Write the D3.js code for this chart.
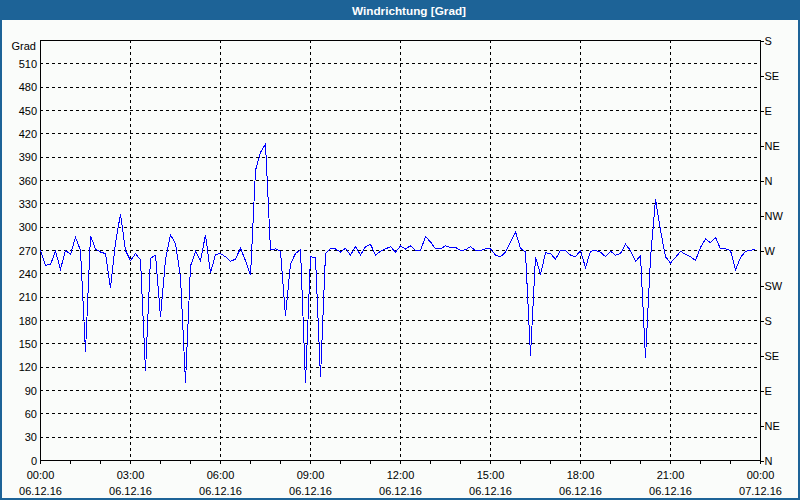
<!DOCTYPE html>
<html><head><meta charset="utf-8">
<script src="https://cdn.jsdelivr.net/npm/d3@7"></script>
<style>html,body{margin:0;padding:0;background:#fff;}svg{display:block;}</style>
</head><body><svg id="c" width="800" height="500"></svg>
<script>
const chartTitle = "Windrichtung [Grad]";
const yUnit = "Grad";
const startTime = Date.UTC(2016, 11, 6, 0, 0);
const endTime = Date.UTC(2016, 11, 7, 0, 0);
const stepMinutes = 10;
const windDirection = [
  270,251,252,269,246,270,265,287,270,140,
  289,272,268,266,222,280,317,270,257,266,
  258,115,260,264,185,258,290,279,236,100,
  250,269,257,290,241,265,266,262,256,259,
  273,257,238,373,396,407,271,272,269,186,
  253,266,271,100,262,261,107,266,273,272,
  268,273,264,275,264,275,278,264,269,272,
  275,268,276,272,276,270,270,288,281,272,
  272,276,274,274,270,271,275,270,270,272,
  272,264,262,268,281,294,273,268,135,262,
  239,267,266,259,270,270,264,262,270,248,
  269,270,268,262,269,264,266,278,270,256,
  263,132,260,336,296,262,254,261,269,265,
  262,257,274,285,280,287,272,272,270,245,
  261,269,270,272
];
const yTickValues = [0,30,60,90,120,150,180,210,240,270,300,330,360,390,420,450,480,510];
const yMax = 540;
const compassValues = [0,45,90,135,180,225,270,315,360,405,450,495,540];
const compassLabels = ["N","NE","E","SE","S","SW","W","NW","N","NE","E","SE","S"];
const timeTickHours = [0,3,6,9,12,15,18,21,24];
const timeLabels = ["00:00","03:00","06:00","09:00","12:00","15:00","18:00","21:00","00:00"];
const dateLabels = ["06.12.16","06.12.16","06.12.16","06.12.16","06.12.16","06.12.16","06.12.16","06.12.16","07.12.16"];

const W = 800, H = 500;
const L = 40, R = 760, T = 40, B = 460;
const blue = "#1d6397";
const font = "'Liberation Sans', Arial, sans-serif";

const svg = d3.select("#c");
svg.append("rect").attr("x", 1).attr("y", 1).attr("width", W - 2).attr("height", H - 2)
  .attr("fill", "#fafcfa").attr("stroke", blue).attr("stroke-width", 2);
svg.append("rect").attr("x", 0).attr("y", 0).attr("width", W).attr("height", 20).attr("fill", blue);
svg.append("text").attr("x", 409).attr("y", 14.5).attr("text-anchor", "middle")
  .attr("fill", "#fff").attr("font-family", font).attr("font-size", 11).attr("font-weight", "bold")
  .attr("textLength", 114).attr("lengthAdjust", "spacingAndGlyphs")
  .text(chartTitle);

const x = d3.scaleUtc().domain([startTime, endTime]).range([L + 0.5, R + 0.5]);
const y = d3.scaleLinear().domain([0, yMax]).range([B + 0.5, T + 0.5]);
const hourMs = 3600 * 1000;

// grid
const grid = svg.append("g").attr("stroke", "#000").attr("stroke-width", 1).attr("stroke-dasharray", "3,3").attr("shape-rendering", "crispEdges");
grid.selectAll("line.h").data(yTickValues.filter(v => v > 0)).join("line")
  .attr("x1", L).attr("x2", R).attr("y1", d => y(d)).attr("y2", d => y(d));
grid.selectAll("line.v").data(timeTickHours.filter(h => h > 0 && h < 24)).join("line")
  .attr("class", "v")
  .attr("x1", d => x(startTime + d * hourMs)).attr("x2", d => x(startTime + d * hourMs))
  .attr("y1", T).attr("y2", B);

// left axis
const yAxis = d3.axisLeft(y).tickValues(yTickValues).tickSize(0).tickPadding(3);
const gy = svg.append("g").attr("transform", `translate(${L},0)`).call(yAxis);
gy.select(".domain").remove();
gy.selectAll("text").attr("font-family", font).attr("font-size", 11).attr("fill", "#000").attr("x", -3);

svg.append("text").attr("x", 36).attr("y", 46).attr("dy", "0.35em").attr("text-anchor", "end")
  .attr("font-family", font).attr("font-size", 11).attr("fill", "#000").text(yUnit);

// right axis
const rAxis = d3.axisRight(y).tickValues(compassValues).tickFormat((d, i) => compassLabels[i]).tickSize(3).tickPadding(1);
const gr = svg.append("g").attr("transform", `translate(${R + 0.5},0)`).call(rAxis);
gr.select(".domain").remove();
gr.selectAll("line").attr("stroke", "#000").attr("shape-rendering", "crispEdges");
gr.selectAll("text").attr("font-family", font).attr("font-size", 11).attr("fill", "#000");

// bottom axis hourly ticks
const hours = d3.range(0, 25);
svg.append("g").attr("stroke", "#000").attr("shape-rendering", "crispEdges")
  .selectAll("line").data(hours).join("line")
  .attr("x1", h => x(startTime + h * hourMs)).attr("x2", h => x(startTime + h * hourMs))
  .attr("y1", B).attr("y2", B + 3.5);

const xl = svg.append("g").attr("font-family", font).attr("font-size", 11).attr("fill", "#000").attr("text-anchor", "middle");
xl.selectAll("text.t").data(timeTickHours).join("text").attr("class", "t")
  .attr("x", h => x(startTime + h * hourMs)).attr("y", 475).attr("dy", "0.35em")
  .text((h, i) => timeLabels[i]);
xl.selectAll("text.d").data(timeTickHours).join("text").attr("class", "d")
  .attr("x", h => x(startTime + h * hourMs)).attr("y", 491).attr("dy", "0.35em")
  .text((h, i) => dateLabels[i]);

// frame
svg.append("rect").attr("x", L + 0.5).attr("y", T + 0.5).attr("width", R - L).attr("height", B - T)
  .attr("fill", "none").attr("stroke", "#000").attr("stroke-width", 1).attr("shape-rendering", "crispEdges");

// data line
const line = d3.line()
  .x((d, i) => x(startTime + i * stepMinutes * 60000))
  .y(d => y(d));
svg.append("path").datum(windDirection).attr("d", line)
  .attr("fill", "none").attr("stroke", "#0000ff").attr("stroke-width", 1)
  .attr("shape-rendering", "crispEdges");
</script>
</body></html>
